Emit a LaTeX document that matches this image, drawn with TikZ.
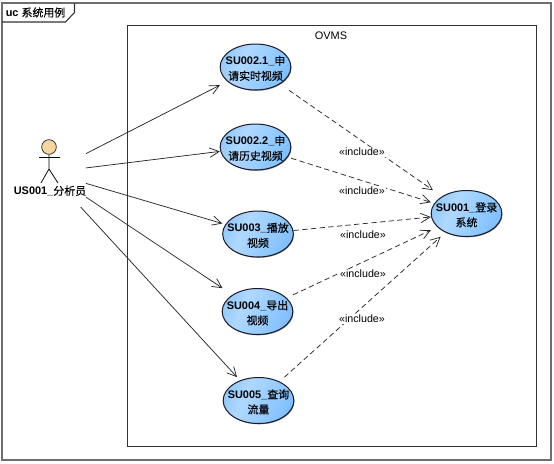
\documentclass[tikz,border=0pt]{standalone}
\usepackage{fontspec}
\setmainfont{Liberation Sans}
\newfontfamily\cjk[FakeBold=0.3]{Noto Sans CJK SC}
\usetikzlibrary{arrows.meta,shapes.geometric,shadows}
\definecolor{ucedge}{HTML}{1A1A2A}
\definecolor{framegray}{HTML}{6E6E6E}
\definecolor{skin}{HTML}{F5D6A0}
\definecolor{ucA}{HTML}{94CBFC}
\definecolor{ucB}{HTML}{AFD8FF}
\definecolor{ucD}{HTML}{9ACEFF}
\definecolor{ucC}{HTML}{7FBFFC}
\pgfdeclarehorizontalshading{ucshade}{100bp}{color(0bp)=(ucA); color(25bp)=(ucA); color(38bp)=(ucB); color(55bp)=(ucD); color(75bp)=(ucC); color(100bp)=(ucC)}
\newcommand{\C}[1]{{\cjk\mdseries #1}}
\newcommand{\usecase}[4]{%
  \node[ucshape,label={[ucl]center:#4}] (#1-e) at (#2,#3) {};
  \node[ucbox] (#1) at (#2,#3) {};}
\tikzset{
  ucshape/.style={ellipse,draw=ucedge,line width=0.75pt,minimum width=53pt,minimum height=34.5pt,inner sep=0pt,outer sep=0pt,
    shading=ucshade,shading angle=-25,drop shadow={shadow xshift=0.5pt,shadow yshift=-0.6pt,fill=black!70,opacity=.7}},
  ucbox/.style={rectangle,minimum width=53.5pt,minimum height=35pt,inner sep=0pt,outer sep=0pt},
  ucl/.style={align=center,inner sep=0pt,yshift=-1pt,font=\fontsize{8.2}{11.3}\selectfont\bfseries,text=black},
  assoc/.style={draw=black!85,line width=0.55pt,-{Straight Barb[length=7pt,width=7pt,line width=0.55pt]}},
  incl/.style={draw=black!85,line width=0.55pt,dash pattern=on 4pt off 2.5pt,-{Straight Barb[length=7pt,width=7pt,line width=0.55pt]}},
  incllabel/.style={fill=white,inner sep=1pt,font=\fontsize{8}{9}\selectfont},
  frameline/.style={draw=framegray,line width=1.2pt},
  boxline/.style={draw=black!80,line width=0.7pt},
  actorline/.style={draw=black,line width=0.6pt},
  actorbox/.style={minimum width=55.5pt,minimum height=51.75pt,inner sep=0pt,outer sep=0pt}
}
\begin{document}
\begin{tikzpicture}[x=0.75pt,y=-0.75pt]
\useasboundingbox (0,0) rectangle (554,464);
\fill[white] (0,0) rectangle (554,464);
% frame
\draw[frameline] (2,3) rectangle (551,460);
\draw[boxline,line width=0.8pt] (2,22) -- (65.5,22) -- (74.5,12.5) -- (74.5,3);
\node[anchor=west,inner sep=0pt,font=\fontsize{8.2}{10}\selectfont] (tab) at (5.5,12.5) {\textbf{uc} \C{系统用例}};
% system box
\draw[boxline] (127.5,25) rectangle (536,446);
\node[inner sep=0pt,font=\fontsize{8.2}{10}\selectfont] (sys) at (331,36) {OVMS};
% actor (the invisible box is what the connectors leave from)
\node[actorbox] (actor) at (49,172.5) {};
\node[circle,draw=black!80,fill=skin,line width=0.6pt,minimum size=11pt,inner sep=0pt] (head) at (49,147) {};
\coordinate (hip) at (49,169);
\coordinate (armL) at (39,157.5);
\coordinate (armR) at (60,157.5);
\coordinate (legL) at (41,183);
\coordinate (legR) at (58,183);
\draw[actorline] (head) -- (hip) (armL) -- (armR) (legL) -- (hip) -- (legR);
\node[inner sep=0pt,font=\fontsize{8.2}{10}\selectfont\bfseries] (actorname) at (50,191) {US001\_\C{分析员}};
% use cases
\usecase{a}{255.5}{67}{SU002.1\_\C{申}\\\C{请实时视频}}
\usecase{b}{255.5}{147}{SU002.2\_\C{申}\\\C{请历史视频}}
\usecase{c}{258}{234}{SU003\_\C{播放}\\\C{视频}}
\usecase{d}{257.5}{311.5}{SU004\_\C{导出}\\\C{视频}}
\usecase{e}{258.5}{400.5}{SU005\_\C{查询}\\\C{流量}}
\usecase{f}{466.5}{213.5}{SU001\_\C{登录}\\\C{系统}}
% associations
\draw[assoc] (actor) -- (a);
\draw[assoc] (actor) -- (b);
\draw[assoc] (actor) -- (c);
\draw[assoc] (actor) -- (d);
\draw[assoc] (actor) -- (e);
% includes
\draw[incl] (a) -- (f);
\draw[incl] (b) -- (f);
\draw[incl] (c) -- (f);
\draw[incl] (d) -- (f);
\draw[incl] (e) -- (f);
\node[incllabel] (la) at (362,152) {«include»};
\node[incllabel] (lb) at (362,191) {«include»};
\node[incllabel] (lc) at (363,235) {«include»};
\node[incllabel] (ld) at (363,274) {«include»};
\node[incllabel] (le) at (362,319) {«include»};
\end{tikzpicture}
\end{document}
